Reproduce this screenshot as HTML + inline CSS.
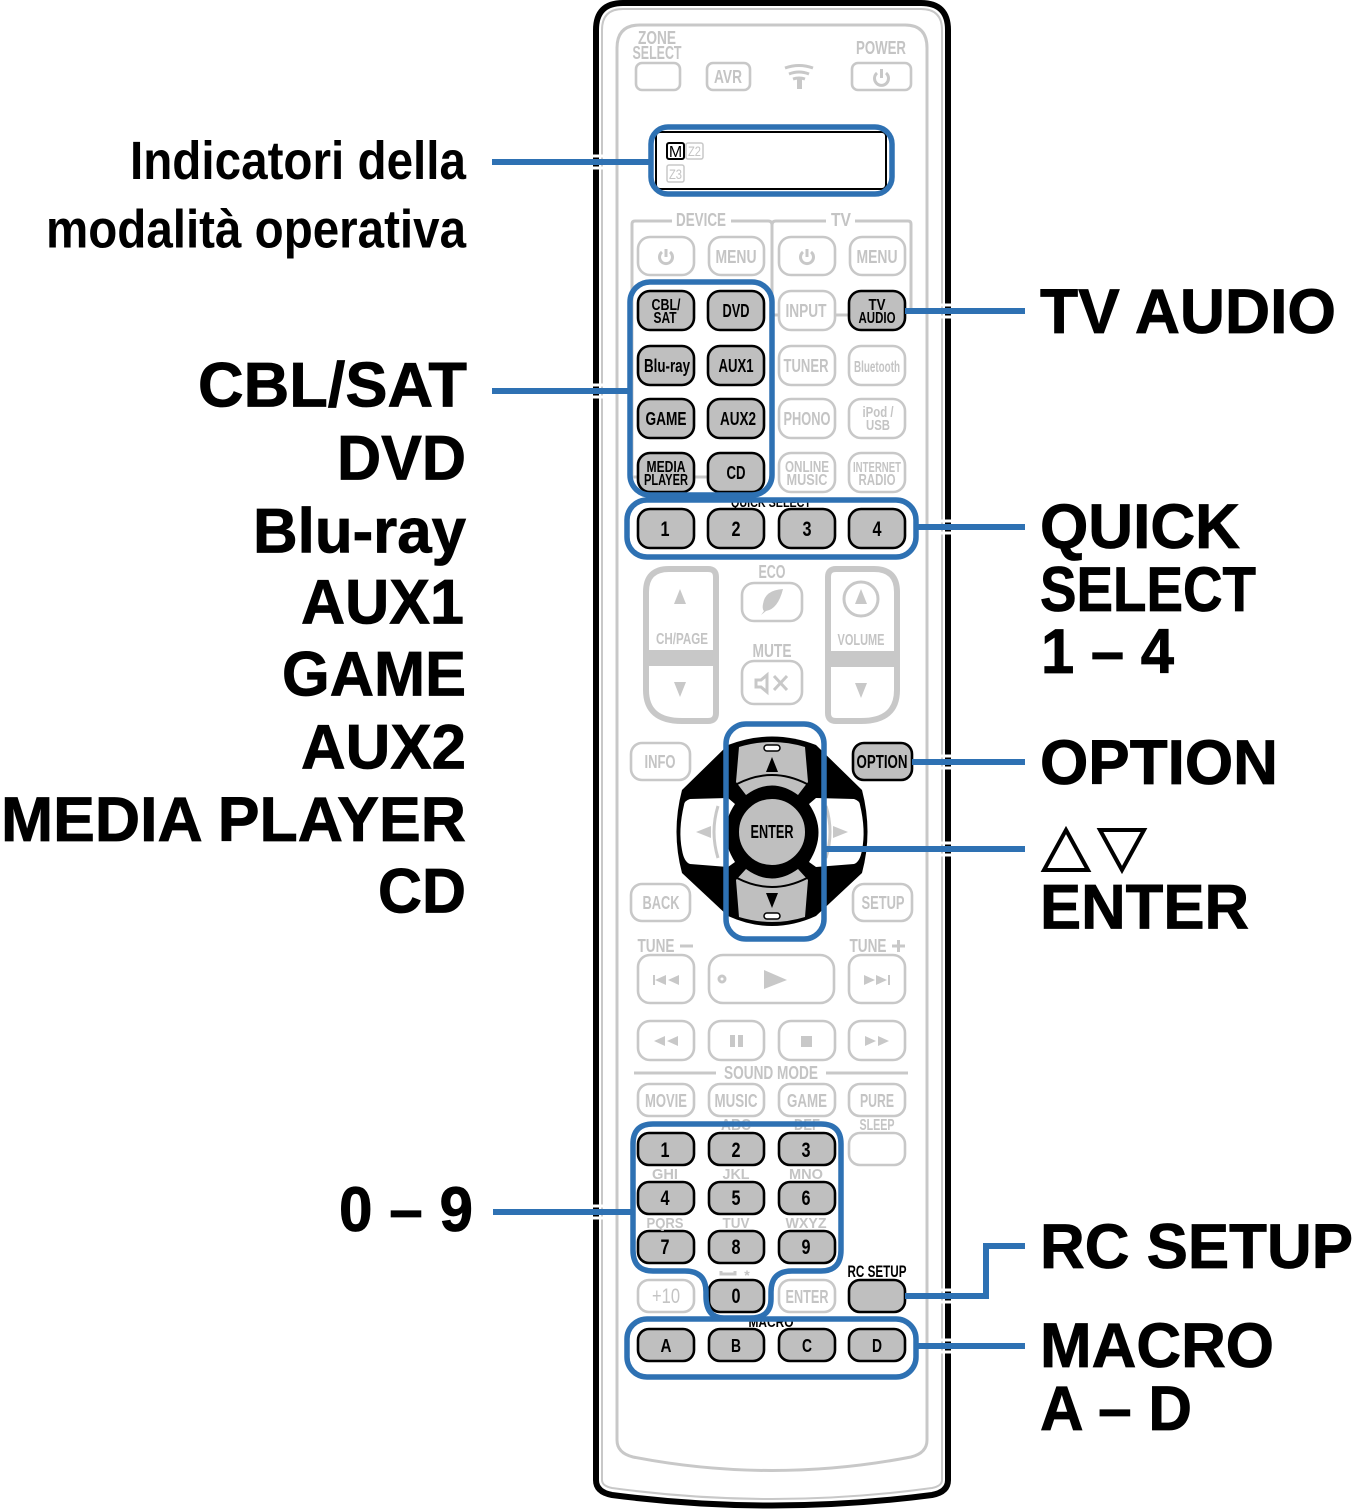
<!DOCTYPE html>
<html><head><meta charset="utf-8"><style>
html,body{margin:0;padding:0;background:#fff}
svg{display:block}
text{font-family:"Liberation Sans",sans-serif;font-weight:bold}
.b{font-size:63px;fill:#000;stroke:#000;stroke-width:.8}
.i{font-size:54px;fill:#000}
.g{fill:#c4c4c4;text-anchor:middle;font-size:18px}
.k{fill:#000;text-anchor:middle;font-size:18px}
.bg{fill:#fff;stroke:#c8c8c8;stroke-width:2.6}
.bk{fill:#bfbfbf;stroke:#000;stroke-width:2.6}
.bl{fill:none;stroke:#2e71b3;stroke-width:5.5}
.gl{fill:none;stroke:#c8c8c8;stroke-width:3}
.tr{fill:#c8c8c8}
</style></head><body>
<svg width="1354" height="1510" viewBox="0 0 1354 1510" xmlns="http://www.w3.org/2000/svg">
<!-- remote body -->
<path d="M596 1480V30Q596 3 623 3H921Q948 3 948 30V1480Q948 1492 932 1495Q772 1516 612 1495Q596 1492 596 1480Z" fill="#fff" stroke="#000" stroke-width="6"/>
<path d="M602 1480V30Q602 9 623 9H921Q942 9 942 30V1480Q942 1486 932 1488Q772 1510 612 1488Q602 1486 602 1480Z" fill="none" stroke="#c8c8c8" stroke-width="2"/>
<path d="M617 1440V48Q617 25 640 25H905Q927 25 927 48V1440Q927 1453 911 1457Q772 1484 633 1457Q617 1453 617 1440Z" fill="none" stroke="#c8c8c8" stroke-width="3"/>

<!-- top -->
<text class="g" x="657" y="44" textLength="38" lengthAdjust="spacingAndGlyphs">ZONE</text>
<text class="g" x="657" y="59" textLength="49" lengthAdjust="spacingAndGlyphs">SELECT</text>
<rect class="bg" x="636" y="63" width="44" height="27" rx="6"/>
<rect class="bg" x="707" y="63" width="43" height="27" rx="6"/>
<text class="g" x="728" y="83" textLength="28" lengthAdjust="spacingAndGlyphs">AVR</text>
<path class="gl" d="M785 68Q799 63 813 68M789 74Q799 70 809 74M793 79Q799 77 805 79" stroke-width="1.500"/>
<rect x="797" y="79" width="5" height="10" fill="#c8c8c8"/>
<text class="g" x="881" y="54" textLength="50" lengthAdjust="spacingAndGlyphs">POWER</text>
<rect class="bg" x="852" y="63" width="59" height="27" rx="6"/>
<path class="gl" d="M877 73A7 7 0 1 0 886 73M881.500 69V78" stroke-width="1.500"/>

<!-- display -->
<rect x="656" y="132" width="230" height="57" rx="4" fill="#fff" stroke="#000" stroke-width="2"/>
<rect x="667" y="143" width="17" height="16" rx="2" fill="#fff" stroke="#000" stroke-width="2"/>
<text x="675.500" y="157" text-anchor="middle" font-size="16" fill="#000" style="font-weight:normal">M</text>
<rect x="686" y="143" width="17" height="16" rx="2" fill="#fff" stroke="#c8c8c8" stroke-width="1.500"/>
<text x="694.500" y="156" text-anchor="middle" font-size="14" fill="#c4c4c4" style="font-weight:normal" textLength="13" lengthAdjust="spacingAndGlyphs">Z2</text>
<rect x="667" y="165" width="17" height="17" rx="2" fill="#fff" stroke="#c8c8c8" stroke-width="1.500"/>
<text x="675.500" y="179" text-anchor="middle" font-size="14" fill="#c4c4c4" style="font-weight:normal" textLength="13" lengthAdjust="spacingAndGlyphs">Z3</text>

<!-- device / tv -->
<path class="gl" d="M672 221H635Q632 221 632 224V477M731 221H768Q772 221 772 225V315M772 225Q772 221 776 221H826M855 221H908Q911 221 911 224V311" stroke-width="2"/>
<text class="g" x="701" y="226" textLength="50" lengthAdjust="spacingAndGlyphs">DEVICE</text>
<text class="g" x="841" y="226" textLength="20" lengthAdjust="spacingAndGlyphs">TV</text>
<g>
<rect class="bg" x="638" y="237" width="56" height="38" rx="12"/>
<rect class="bg" x="709" y="237" width="55" height="38" rx="12"/>
<rect class="bg" x="779" y="237" width="56" height="38" rx="12"/>
<rect class="bg" x="850" y="237" width="55" height="38" rx="12"/>
<path class="gl" d="M662 252A6.500 6.500 0 1 0 670 252M666 249V257M803 252A6.500 6.500 0 1 0 811 252M807 249V257" stroke-width="1.500"/>
<text class="g" x="736" y="263" textLength="41" lengthAdjust="spacingAndGlyphs">MENU</text>
<text class="g" x="877" y="263" textLength="41" lengthAdjust="spacingAndGlyphs">MENU</text>
</g>

<!-- source rows -->
<path class="gl" d="M632 477H708M772 315H849" stroke-width="2"/>
<rect class="bk" x="638" y="291" width="56" height="39" rx="12"/>
<rect class="bk" x="708" y="291" width="56" height="39" rx="12"/>
<rect class="bg" x="779" y="291" width="56" height="39" rx="12"/>
<rect class="bk" x="849" y="291" width="56" height="39" rx="12"/>
<rect class="bk" x="638" y="346" width="56" height="39" rx="12"/>
<rect class="bk" x="708" y="346" width="56" height="39" rx="12"/>
<rect class="bg" x="779" y="346" width="56" height="39" rx="12"/>
<rect class="bg" x="849" y="346" width="56" height="39" rx="12"/>
<rect class="bk" x="638" y="399" width="56" height="39" rx="12"/>
<rect class="bk" x="708" y="399" width="56" height="39" rx="12"/>
<rect class="bg" x="779" y="399" width="56" height="39" rx="12"/>
<rect class="bg" x="849" y="399" width="56" height="39" rx="12"/>
<rect class="bk" x="638" y="453" width="56" height="39" rx="12"/>
<rect class="bk" x="708" y="453" width="56" height="39" rx="12"/>
<rect class="bg" x="779" y="453" width="56" height="39" rx="12"/>
<rect class="bg" x="849" y="453" width="56" height="39" rx="12"/>
<text class="k" x="666" y="310" style="font-size:16px" textLength="29" lengthAdjust="spacingAndGlyphs">CBL/</text>
<text class="k" x="665" y="323" style="font-size:16px" textLength="23" lengthAdjust="spacingAndGlyphs">SAT</text>
<text class="k" x="736" y="317" textLength="27" lengthAdjust="spacingAndGlyphs">DVD</text>
<text class="g" x="806" y="317" textLength="41" lengthAdjust="spacingAndGlyphs">INPUT</text>
<text class="k" x="877" y="310" style="font-size:16px" textLength="17" lengthAdjust="spacingAndGlyphs">TV</text>
<text class="k" x="877" y="323" style="font-size:16px" textLength="37" lengthAdjust="spacingAndGlyphs">AUDIO</text>
<text class="k" x="667" y="372" textLength="46" lengthAdjust="spacingAndGlyphs">Blu-ray</text>
<text class="k" x="736" y="372" textLength="35" lengthAdjust="spacingAndGlyphs">AUX1</text>
<text class="g" x="806" y="372" textLength="45" lengthAdjust="spacingAndGlyphs">TUNER</text>
<text class="g" x="877" y="372" style="font-size:16px" textLength="46" lengthAdjust="spacingAndGlyphs">Bluetooth</text>
<text class="k" x="666" y="425" textLength="41" lengthAdjust="spacingAndGlyphs">GAME</text>
<text class="k" x="738" y="425" textLength="36" lengthAdjust="spacingAndGlyphs">AUX2</text>
<text class="g" x="807" y="425" textLength="47" lengthAdjust="spacingAndGlyphs">PHONO</text>
<text class="g" x="878" y="417" style="font-size:15px" textLength="31" lengthAdjust="spacingAndGlyphs">iPod /</text>
<text class="g" x="878" y="430" style="font-size:15px" textLength="24" lengthAdjust="spacingAndGlyphs">USB</text>
<text class="k" x="666" y="472" style="font-size:16px" textLength="39" lengthAdjust="spacingAndGlyphs">MEDIA</text>
<text class="k" x="666" y="485" style="font-size:16px" textLength="44" lengthAdjust="spacingAndGlyphs">PLAYER</text>
<text class="k" x="736" y="479" textLength="19" lengthAdjust="spacingAndGlyphs">CD</text>
<text class="g" x="807" y="472" style="font-size:16px" textLength="44" lengthAdjust="spacingAndGlyphs">ONLINE</text>
<text class="g" x="807" y="485" style="font-size:16px" textLength="41" lengthAdjust="spacingAndGlyphs">MUSIC</text>
<text class="g" x="877" y="472" style="font-size:15px" textLength="48" lengthAdjust="spacingAndGlyphs">INTERNET</text>
<text class="g" x="877" y="485" style="font-size:16px" textLength="37" lengthAdjust="spacingAndGlyphs">RADIO</text>

<!-- quick select -->
<text class="k" x="771" y="507" style="font-size:14px" textLength="80" lengthAdjust="spacingAndGlyphs">QUICK SELECT</text>
<rect class="bk" x="638" y="509" width="56" height="39" rx="12"/>
<rect class="bk" x="708" y="509" width="56" height="39" rx="12"/>
<rect class="bk" x="779" y="509" width="56" height="39" rx="12"/>
<rect class="bk" x="849" y="509" width="56" height="39" rx="12"/>
<text class="k" x="665" y="536" style="font-size:21px" textLength="9" lengthAdjust="spacingAndGlyphs">1</text>
<text class="k" x="736" y="536" style="font-size:21px" textLength="9" lengthAdjust="spacingAndGlyphs">2</text>
<text class="k" x="807" y="536" style="font-size:21px" textLength="9" lengthAdjust="spacingAndGlyphs">3</text>
<text class="k" x="877" y="536" style="font-size:21px" textLength="9" lengthAdjust="spacingAndGlyphs">4</text>

<!-- ch/page & volume -->
<path d="M646 592Q646 569 669 569H708Q716 569 716 577V713Q716 721 708 721H682Q646 721 646 690Z" fill="#fff" stroke="#c8c8c8" stroke-width="6"/>
<rect x="649" y="650" width="64" height="16" fill="#c8c8c8"/>
<path class="tr" d="M680 589l6 15h-12zM680 697l-6-15h12z"/>
<text class="g" x="682" y="644" style="font-size:16px" textLength="52" lengthAdjust="spacingAndGlyphs">CH/PAGE</text>
<path d="M897 592Q897 569 874 569H836Q828 569 828 577V713Q828 721 836 721H861Q897 721 897 690Z" fill="#fff" stroke="#c8c8c8" stroke-width="6"/>
<rect x="830" y="651" width="65" height="16" fill="#c8c8c8"/>
<circle cx="861" cy="599" r="17" class="gl" stroke-width="2"/>
<path class="tr" d="M861 589l6 15h-12zM861 698l-6-15h12z"/>
<text class="g" x="861" y="645" style="font-size:16px" textLength="47" lengthAdjust="spacingAndGlyphs">VOLUME</text>
<text class="g" x="772" y="578" style="font-size:18px" textLength="27" lengthAdjust="spacingAndGlyphs">ECO</text>
<rect class="bg" x="742" y="583" width="60" height="38" rx="12"/>
<path class="tr" d="M783 589Q765 590 763 604Q762 609 764 611L761 615L766 611Q778 609 783 589Z"/>
<text class="g" x="772" y="657" style="font-size:18px" textLength="39" lengthAdjust="spacingAndGlyphs">MUTE</text>
<rect class="bg" x="742" y="661" width="60" height="43" rx="12"/>
<path class="gl" d="M756 680H761L767 675V692L761 687H756ZM774 676L787 690M787 676L774 690" stroke-width="2"/>

<!-- dpad -->
<path d="M728 745Q772 728 816 745L862 790Q873 832 862 873L816 916Q772 936 728 916L682 873Q671 832 682 790Z" fill="#000"/>
<path d="M684 805Q684 801 690 799L728 798L735 804Q716 832 735 862L728 867L690 864Q684 862 682 850Q678 830 684 805Z" fill="#fff"/>
<path d="M860 805Q860 801 854 799L816 798L809 804Q828 832 809 862L816 867L854 864Q860 862 862 850Q866 830 860 805Z" fill="#fff"/>
<path class="gl" d="M718 806Q710 832 718 858M826 806Q834 832 826 858" stroke-width="1.500"/>
<path class="tr" d="M696 832l15-6v12zM848 832l-15-6v12z"/>
<path d="M739 747Q772 737 805 747L808 782L798 795Q772 776 746 795L736 782Z" fill="#bfbfbf"/>
<path d="M739 917Q772 927 805 917L808 880L798 869Q772 888 746 869L736 880Z" fill="#bfbfbf"/>
<path d="M737 784Q772 766 807 784M737 878Q772 896 807 878" fill="none" stroke="#000" stroke-width="2"/>
<rect x="764" y="745" width="16" height="6" rx="3" fill="#fff" stroke="#000" stroke-width="1.500"/>
<rect x="764" y="913" width="16" height="6" rx="3" fill="#fff" stroke="#000" stroke-width="1.500"/>
<path d="M772 757l6 15h-12zM772 908l-6-15h12z" fill="#000"/>
<circle cx="772" cy="832" r="38" fill="#bfbfbf" stroke="#000" stroke-width="10"/>
<text class="k" x="772" y="838" style="font-size:18px" textLength="43" lengthAdjust="spacingAndGlyphs">ENTER</text>

<rect class="bg" x="631" y="743" width="59" height="37" rx="11"/>
<text class="g" x="660" y="768" textLength="31" lengthAdjust="spacingAndGlyphs">INFO</text>
<rect class="bk" x="853" y="743" width="59" height="37" rx="11"/>
<text class="k" x="882" y="768" textLength="51" lengthAdjust="spacingAndGlyphs">OPTION</text>
<rect class="bg" x="631" y="884" width="59" height="37" rx="11"/>
<text class="g" x="661" y="909" textLength="37" lengthAdjust="spacingAndGlyphs">BACK</text>
<rect class="bg" x="853" y="884" width="59" height="37" rx="11"/>
<text class="g" x="883" y="909" textLength="43" lengthAdjust="spacingAndGlyphs">SETUP</text>

<!-- transport -->
<text class="g" x="656" y="952" textLength="37" lengthAdjust="spacingAndGlyphs">TUNE</text>
<path class="gl" d="M680 946H693" stroke-width="2"/>
<text class="g" x="868" y="952" textLength="37" lengthAdjust="spacingAndGlyphs">TUNE</text>
<path class="gl" d="M892 946H905M898.500 940V952" stroke-width="2.500"/>
<rect class="bg" x="638" y="955" width="56" height="48" rx="12"/>
<rect class="bg" x="709" y="955" width="125" height="48" rx="14"/>
<rect class="bg" x="849" y="955" width="56" height="48" rx="12"/>
<path class="tr" d="M653 975h2v10h-2zM666 975v10l-11-5zM679 975v10l-11-5z"/>
<circle cx="722" cy="979" r="3" class="gl" stroke-width="1.500"/>
<path class="tr" d="M764 970L787 980L764 989Z"/>
<path class="tr" d="M864 975l11 5-11 5zM876 975l11 5-11 5zM888 975h2v10h-2z"/>
<rect class="bg" x="638" y="1021" width="56" height="39" rx="12"/>
<rect class="bg" x="709" y="1021" width="55" height="39" rx="12"/>
<rect class="bg" x="779" y="1021" width="56" height="39" rx="12"/>
<rect class="bg" x="849" y="1021" width="56" height="39" rx="12"/>
<path class="tr" d="M665 1036v10l-11-5zM678 1036v10l-11-5zM730 1035h5v12h-5zM738 1035h5v12h-5zM801 1036h11v11h-11zM865 1036l11 5-11 5zM878 1036l11 5-11 5z"/>

<!-- sound mode -->
<path class="gl" d="M634 1073H716M826 1073H908" stroke-width="2"/>
<text class="g" x="771" y="1079" textLength="94" lengthAdjust="spacingAndGlyphs">SOUND MODE</text>
<rect class="bg" x="638" y="1084" width="56" height="32" rx="11"/>
<rect class="bg" x="709" y="1084" width="55" height="32" rx="11"/>
<rect class="bg" x="779" y="1084" width="56" height="32" rx="11"/>
<rect class="bg" x="849" y="1084" width="56" height="32" rx="11"/>
<text class="g" x="666" y="1107" textLength="42" lengthAdjust="spacingAndGlyphs">MOVIE</text>
<text class="g" x="736" y="1107" textLength="43" lengthAdjust="spacingAndGlyphs">MUSIC</text>
<text class="g" x="807" y="1107" textLength="40" lengthAdjust="spacingAndGlyphs">GAME</text>
<text class="g" x="877" y="1107" textLength="34" lengthAdjust="spacingAndGlyphs">PURE</text>
<text class="g" x="877" y="1130" style="font-size:16px" textLength="35" lengthAdjust="spacingAndGlyphs">SLEEP</text>
<text class="g" x="736" y="1130" style="font-size:16px" textLength="30" lengthAdjust="spacingAndGlyphs">ABC</text>
<text class="g" x="807" y="1130" style="font-size:16px" textLength="26" lengthAdjust="spacingAndGlyphs">DEF</text>

<!-- numbers -->
<rect class="bk" x="638" y="1133" width="56" height="32" rx="11"/>
<rect class="bk" x="709" y="1133" width="55" height="32" rx="11"/>
<rect class="bk" x="779" y="1133" width="56" height="32" rx="11"/>
<rect class="bg" x="849" y="1133" width="56" height="32" rx="11"/>
<rect class="bk" x="638" y="1182" width="56" height="32" rx="11"/>
<rect class="bk" x="709" y="1182" width="55" height="32" rx="11"/>
<rect class="bk" x="779" y="1182" width="56" height="32" rx="11"/>
<rect class="bk" x="638" y="1231" width="56" height="32" rx="11"/>
<rect class="bk" x="709" y="1231" width="55" height="32" rx="11"/>
<rect class="bk" x="779" y="1231" width="56" height="32" rx="11"/>
<rect class="bg" x="638" y="1280" width="56" height="32" rx="11"/>
<rect class="bk" x="709" y="1280" width="55" height="32" rx="11"/>
<rect class="bg" x="779" y="1280" width="56" height="32" rx="11"/>
<rect class="bk" x="849" y="1280" width="56" height="32" rx="11"/>
<g>
<text class="k" x="665" y="1157" style="font-size:21px" textLength="9" lengthAdjust="spacingAndGlyphs">1</text>
<text class="k" x="736" y="1157" style="font-size:21px" textLength="9" lengthAdjust="spacingAndGlyphs">2</text>
<text class="k" x="806" y="1157" style="font-size:21px" textLength="9" lengthAdjust="spacingAndGlyphs">3</text>
<text class="k" x="665" y="1205" style="font-size:21px" textLength="9" lengthAdjust="spacingAndGlyphs">4</text>
<text class="k" x="736" y="1205" style="font-size:21px" textLength="9" lengthAdjust="spacingAndGlyphs">5</text>
<text class="k" x="806" y="1205" style="font-size:21px" textLength="9" lengthAdjust="spacingAndGlyphs">6</text>
<text class="k" x="665" y="1254" style="font-size:21px" textLength="9" lengthAdjust="spacingAndGlyphs">7</text>
<text class="k" x="736" y="1254" style="font-size:21px" textLength="9" lengthAdjust="spacingAndGlyphs">8</text>
<text class="k" x="806" y="1254" style="font-size:21px" textLength="9" lengthAdjust="spacingAndGlyphs">9</text>
<text class="k" x="736" y="1303" style="font-size:21px" textLength="9" lengthAdjust="spacingAndGlyphs">0</text>
</g>
<text class="g" x="665" y="1179" style="font-size:15px" textLength="26" lengthAdjust="spacingAndGlyphs">GHI</text>
<text class="g" x="736" y="1179" style="font-size:15px" textLength="27" lengthAdjust="spacingAndGlyphs">JKL</text>
<text class="g" x="806" y="1179" style="font-size:15px" textLength="34" lengthAdjust="spacingAndGlyphs">MNO</text>
<text class="g" x="665" y="1228" style="font-size:15px" textLength="37" lengthAdjust="spacingAndGlyphs">PQRS</text>
<text class="g" x="736" y="1228" style="font-size:15px" textLength="27" lengthAdjust="spacingAndGlyphs">TUV</text>
<text class="g" x="806" y="1228" style="font-size:15px" textLength="41" lengthAdjust="spacingAndGlyphs">WXYZ</text>
<path class="gl" d="M721 1271v3h14v-3" stroke-width="1.500"/>
<text class="g" x="747" y="1280" style="font-size:14px">*</text>
<text class="g" x="666" y="1303" style="font-size:21px;font-weight:normal" textLength="28" lengthAdjust="spacingAndGlyphs">+10</text>
<text class="g" x="807" y="1303" textLength="43" lengthAdjust="spacingAndGlyphs">ENTER</text>
<text class="k" x="877" y="1277" style="font-size:17px" textLength="59" lengthAdjust="spacingAndGlyphs">RC SETUP</text>

<!-- macro -->
<text class="k" x="771" y="1327" style="font-size:15px" textLength="45" lengthAdjust="spacingAndGlyphs">MACRO</text>
<rect class="bk" x="638" y="1329" width="56" height="32" rx="11"/>
<rect class="bk" x="709" y="1329" width="55" height="32" rx="11"/>
<rect class="bk" x="779" y="1329" width="56" height="32" rx="11"/>
<rect class="bk" x="849" y="1329" width="56" height="32" rx="11"/>
<text class="k" x="666" y="1352" style="font-size:18px" textLength="11" lengthAdjust="spacingAndGlyphs">A</text>
<text class="k" x="736" y="1352" style="font-size:18px" textLength="10" lengthAdjust="spacingAndGlyphs">B</text>
<text class="k" x="807" y="1352" style="font-size:18px" textLength="10" lengthAdjust="spacingAndGlyphs">C</text>
<text class="k" x="877" y="1352" style="font-size:18px" textLength="10" lengthAdjust="spacingAndGlyphs">D</text>

<!-- blue highlights -->
<rect class="bl" x="651" y="127" width="241" height="67" rx="17"/>
<rect class="bl" x="630" y="282" width="142" height="213" rx="20"/>
<rect class="bl" x="627" y="500" width="289" height="57" rx="20"/>
<rect class="bl" x="726" y="724" width="98" height="215" rx="20"/>
<path class="bl" d="M653 1124H821Q841 1124 841 1144V1250Q841 1271 821 1271H792Q771 1271 771 1292V1299Q771 1318 750 1318H724Q706 1318 706 1296V1292Q706 1271 685 1271H653Q633 1271 633 1250V1144Q633 1124 653 1124Z"/>
<rect class="bl" x="627" y="1319" width="289" height="58" rx="20"/>

<!-- connectors -->
<g fill="none" stroke="#2e71b3" stroke-width="6">
<path d="M492 162H652" />
<path d="M492 391H630" />
<path d="M493 1212H633" />
<path d="M905 311H1025" />
<path d="M916 527H1025" />
<path d="M912 762H1025" />
<path d="M824 849H1025" />
<path d="M905 1296H986V1246H1025" />
<path d="M916 1346H1025" />
</g>
<!-- white breaks around connectors on body edge -->
<g stroke="#fff" stroke-width="3">
<path d="M593 156H603M593 168H603M593 385H603M593 397H603M593 1206H603M593 1218H603"/>
<path d="M941 305H951M941 317H951M941 521H951M941 533H951M941 756H951M941 768H951M941 843H951M941 855H951M941 1290H951M941 1302H951M941 1340H951M941 1352H951"/>
</g>

<!-- left labels -->
<text class="i" x="130" y="179" textLength="336" lengthAdjust="spacingAndGlyphs">Indicatori della</text>
<text class="i" x="46" y="247.500" textLength="420" lengthAdjust="spacingAndGlyphs">modalità operativa</text>
<text class="b" x="198" y="406.500" textLength="269" lengthAdjust="spacingAndGlyphs">CBL/SAT</text>
<text class="b" x="337" y="479.500" textLength="129" lengthAdjust="spacingAndGlyphs">DVD</text>
<text class="b" x="253" y="552.500" textLength="213" lengthAdjust="spacingAndGlyphs">Blu-ray</text>
<text class="b" x="301" y="623.500" textLength="163" lengthAdjust="spacingAndGlyphs">AUX1</text>
<text class="b" x="282" y="695.500" textLength="184" lengthAdjust="spacingAndGlyphs">GAME</text>
<text class="b" x="301" y="768.500" textLength="165" lengthAdjust="spacingAndGlyphs">AUX2</text>
<text class="b" x="1" y="841" textLength="465" lengthAdjust="spacingAndGlyphs">MEDIA PLAYER</text>
<text class="b" x="378" y="912.500" textLength="88" lengthAdjust="spacingAndGlyphs">CD</text>
<text class="b" x="339" y="1231" textLength="134" lengthAdjust="spacingAndGlyphs">0 – 9</text>

<!-- right labels -->
<text class="b" x="1040" y="333" textLength="296" lengthAdjust="spacingAndGlyphs">TV AUDIO</text>
<text class="b" x="1040" y="548" textLength="200" lengthAdjust="spacingAndGlyphs">QUICK</text>
<text class="b" x="1040" y="611" textLength="216" lengthAdjust="spacingAndGlyphs">SELECT</text>
<text class="b" x="1041" y="673" textLength="133" lengthAdjust="spacingAndGlyphs">1 – 4</text>
<text class="b" x="1040" y="784" textLength="238" lengthAdjust="spacingAndGlyphs">OPTION</text>
<path d="M1066 830L1088 870H1044ZM1122 870L1100 830H1144Z" fill="none" stroke="#000" stroke-width="4"/>
<text class="b" x="1040" y="928.500" textLength="209" lengthAdjust="spacingAndGlyphs">ENTER</text>
<text class="b" x="1040" y="1268" textLength="313" lengthAdjust="spacingAndGlyphs">RC SETUP</text>
<text class="b" x="1040" y="1367" textLength="234" lengthAdjust="spacingAndGlyphs">MACRO</text>
<text class="b" x="1040" y="1430" textLength="152" lengthAdjust="spacingAndGlyphs">A – D</text>
</svg>
</body></html>
